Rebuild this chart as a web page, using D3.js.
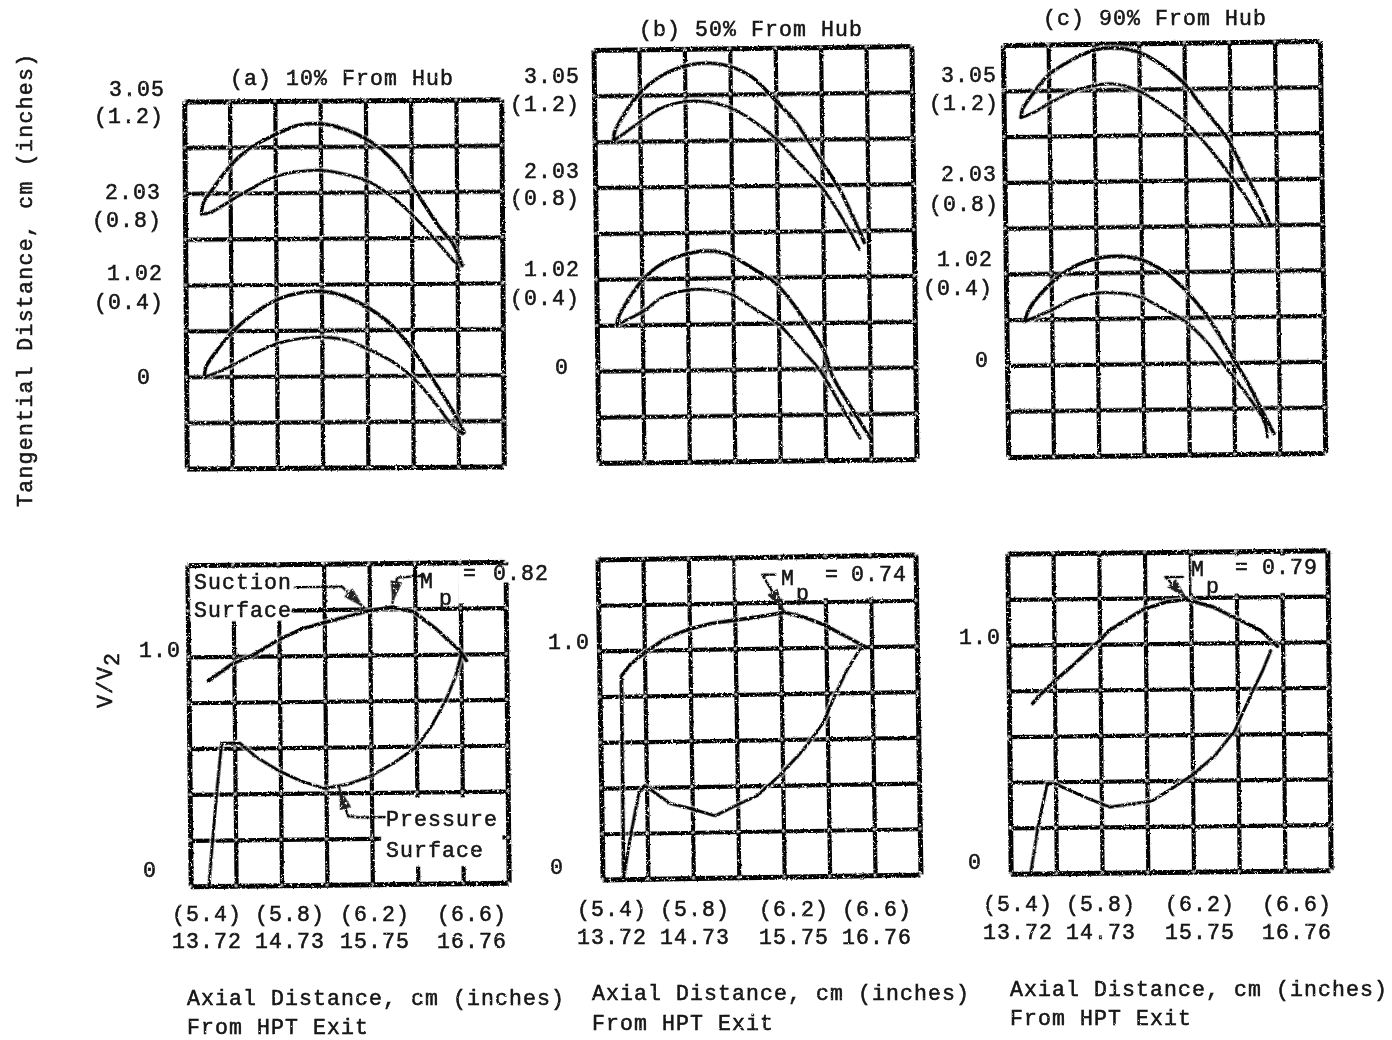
<!DOCTYPE html>
<html>
<head>
<meta charset="utf-8">
<script src="https://cdn.jsdelivr.net/npm/d3@7"></script>
<style>
  body { margin: 0; background: #fff; }
  text { font-family: "Liberation Mono", monospace; font-size: 21.5px; fill: #141414; stroke: #141414; stroke-width: 0.55px; letter-spacing: 1.1px; }
  .grid line { stroke: #000; stroke-width: 4.2px; }
  .grid .frame line { stroke-width: 5px; }
  .trace { fill: none; stroke: #000; stroke-linecap: round; stroke-linejoin: round; }
  .halo { fill: none; stroke: #fff; stroke-width: 6.5px; stroke-opacity: 0.6; }
</style>
</head>
<body>
<svg id="chart" width="1392" height="1040"></svg>
<script>
// grid lines, inches
const axialTicks = [5.4, 5.6, 5.8, 6.0, 6.2, 6.4, 6.6, 6.8];
const tangentialTicksA = [-0.4, -0.2, 0, 0.2, 0.4, 0.6, 0.8, 1.0, 1.2];
const tangentialTicks = [-0.4, -0.2, 0, 0.2, 0.4, 0.6, 0.8, 1.0, 1.2, 1.4];
const velocityTicks = [0, 0.2, 0.4, 0.6, 0.8, 1.0, 1.2, 1.4];

// tick label text
const xLabelsIn = ["(5.4)", "(5.8)", "(6.2)", "(6.6)"];
const xLabelsCm = ["13.72", "14.73", "15.75", "16.76"];
const yLabelsCm = ["3.05", "2.03", "1.02", "0"];
const yLabelsIn = ["(1.2)", "(0.8)", "(0.4)", ""];
const titles = ["(a) 10% From Hub", "(b) 50% From Hub", "(c) 90% From Hub"];
const machPeak = ["= 0.82", "= 0.74", "= 0.79"];

// blade profiles: [axial in, tangential in]
const a10UpperSuction = [[5.473,.709],[5.481,.756],[5.525,.821],[5.598,.915],[5.686,.994],[5.796,1.051],[5.892,1.091],[5.995,1.100],[6.098,1.078],[6.200,1.033],[6.274,.982],[6.340,.916],[6.399,.835],[6.450,.755],[6.523,.645],[6.582,.572],[6.623,.477]];
const a10UpperPressure = [[5.473,.709],[5.510,.715],[5.606,.769],[5.686,.815],[5.796,.869],[5.892,.890],[5.995,.897],[6.098,.881],[6.200,.851],[6.288,.800],[6.399,.704],[6.494,.602],[6.589,.492]];
const a10LowerSuction = [[5.481,.002],[5.488,.043],[5.532,.108],[5.606,.195],[5.701,.274],[5.804,.334],[5.899,.362],[5.995,.369],[6.098,.348],[6.200,.299],[6.303,.225],[6.399,.115],[6.479,-.002],[6.567,-.141],[6.626,-.250]];
const a10LowerPressure = [[5.488,-.001],[5.606,.049],[5.701,.099],[5.804,.142],[5.899,.163],[6.009,.169],[6.112,.154],[6.200,.117],[6.303,.065],[6.399,-.008],[6.479,-.096],[6.575,-.221],[6.619,-.257]];

const b50UpperSuction = [[5.484,1.003],[5.488,1.040],[5.532,1.119],[5.598,1.206],[5.686,1.277],[5.796,1.324],[5.892,1.337],[5.995,1.322],[6.098,1.272],[6.200,1.169],[6.288,1.073],[6.391,.912],[6.472,.787],[6.538,.648],[6.582,.546]];
const b50UpperPressure = [[5.484,1.003],[5.598,1.082],[5.686,1.139],[5.796,1.170],[5.892,1.169],[5.995,1.142],[6.098,1.083],[6.200,1.002],[6.288,.906],[6.398,.788],[6.494,.641],[6.560,.517]];
const b50LowerSuction = [[5.488,.203],[5.495,.232],[5.540,.311],[5.606,.398],[5.686,.462],[5.796,.505],[5.892,.518],[5.980,.502],[6.083,.443],[6.193,.369],[6.303,.229],[6.399,.075],[6.435,-.035],[6.523,-.183],[6.597,-.306]];
const b50LowerPressure = [[5.488,.203],[5.606,.259],[5.686,.317],[5.796,.347],[5.892,.350],[5.995,.327],[6.098,.261],[6.200,.194],[6.288,.098],[6.377,-.005],[6.457,-.141],[6.553,-.306]];

const c90UpperSuction = [[5.476,1.083],[5.484,1.120],[5.535,1.192],[5.597,1.264],[5.697,1.328],[5.795,1.371],[5.888,1.381],[5.993,1.364],[6.093,1.309],[6.193,1.227],[6.284,1.110],[6.387,.978],[6.460,.831],[6.534,.685],[6.570,.597]];
const c90UpperPressure = [[5.476,1.083],[5.535,1.105],[5.597,1.140],[5.697,1.190],[5.795,1.218],[5.888,1.224],[5.993,1.194],[6.093,1.134],[6.193,1.060],[6.284,.964],[6.387,.832],[6.460,.729],[6.534,.605]];
const c90LowerSuction = [[5.479,.191],[5.506,.253],[5.597,.354],[5.697,.426],[5.795,.461],[5.888,.471],[5.993,.456],[6.093,.406],[6.193,.318],[6.284,.207],[6.387,.039],[6.460,-.086],[6.534,-.232],[6.575,-.313]];
const c90LowerPressure = [[5.479,.191],[5.597,.238],[5.697,.287],[5.795,.311],[5.888,.311],[5.993,.291],[6.093,.239],[6.193,.179],[6.284,.091],[6.387,-.049],[6.460,-.144],[6.534,-.262],[6.545,-.327]];

// surface velocity: [axial in, V/V2]
const a10VelSuction = [[5.487,.894],[5.594,.968],[5.683,1.004],[5.793,1.068],[5.904,1.118],[5.992,1.142],[6.095,1.167],[6.184,1.190],[6.301,1.208],[6.397,1.185],[6.493,1.110],[6.596,1.014],[6.625,.970]];
const a10VelPressure = [[5.480,0],[5.518,.400],[5.543,.623],[5.624,.621],[5.697,.558],[5.793,.499],[5.889,.454],[5.992,.420],[6.095,.437],[6.198,.472],[6.301,.529],[6.397,.594],[6.463,.680],[6.530,.796],[6.574,.898],[6.603,1.000]];
const b50VelSuction = [[5.493,.006],[5.497,.889],[5.537,.939],[5.591,.982],[5.691,1.049],[5.794,1.088],[5.896,1.112],[5.999,1.125],[6.102,1.138],[6.219,1.156],[6.307,1.133],[6.393,1.099],[6.484,1.049],[6.579,.996]];
const b50VelPressure = [[5.493,.006],[5.529,.202],[5.566,.377],[5.591,.408],[5.705,.327],[5.801,.302],[5.899,.271],[5.999,.318],[6.087,.356],[6.190,.446],[6.293,.553],[6.381,.669],[6.440,.799],[6.491,.900],[6.550,.991],[6.579,.996]];
const c90VelSuction = [[5.503,.743],[5.535,.779],[5.597,.837],[5.682,.909],[5.785,1.003],[5.843,1.060],[5.902,1.096],[5.990,1.149],[6.093,1.181],[6.181,1.191],[6.299,1.157],[6.401,1.105],[6.504,1.053],[6.578,.982]];
const c90VelPressure = [[5.488,.006],[5.523,.210],[5.564,.392],[5.597,.392],[5.726,.332],[5.836,.287],[5.932,.300],[6.020,.311],[6.108,.364],[6.196,.421],[6.299,.507],[6.387,.616],[6.468,.790],[6.512,.877],[6.548,.964]];

// frame placement on the scanned page
const topPanels = [
  {cx: 344, cy: 284, w: 317, h: 367, rot: -0.4, ticks: tangentialTicksA, lines: [a10UpperSuction, a10UpperPressure, a10LowerSuction, a10LowerPressure]},
  {cx: 755, cy: 254.5, w: 318, h: 413, rot: -0.7, ticks: tangentialTicks, lines: [b50UpperSuction, b50UpperPressure, b50LowerSuction, b50LowerPressure]},
  {cx: 1164, cy: 249, w: 317, h: 412, rot: -0.75, ticks: tangentialTicks, lines: [c90UpperSuction, c90UpperPressure, c90LowerSuction, c90LowerPressure]}
];
const bottomPanels = [
  {cx: 348, cy: 724, w: 318, h: 321, rot: -0.6, ticks: velocityTicks, lines: [a10VelSuction, a10VelPressure],
   clear: [[5.41,5.86,1.153,1.385],[6.59,6.79,1.22,1.385],[6.59,6.84,1.31,1.385],[6.24,6.775,.075,.375]],
   leaders: [[[5.874,1.299],[6.080,1.299],[6.176,1.207]], [[5.859,1.197],[6.169,1.201]], [[6.441,1.343],[6.323,1.336],[6.301,1.226]], [[6.257,.292],[6.139,.292],[6.095,.299],[6.058,.423]]]},
  {cx: 759, cy: 717, w: 318, h: 320, rot: -0.9, ticks: velocityTicks, lines: [b50VelSuction, b50VelPressure],
   clear: [[6.006,6.786,1.215,1.385]],
   leaders: [[[6.183,1.322],[6.124,1.323],[6.216,1.163]]]},
  {cx: 1169, cy: 712, w: 320, h: 320, rot: -0.6, ticks: velocityTicks, lines: [c90VelSuction, c90VelPressure],
   clear: [[6.203,6.78,1.215,1.38]],
   leaders: [[[6.167,1.290],[6.090,1.291],[6.184,1.195]]]}
];

const svg = d3.select("#chart");
const defs = svg.append("defs");

// rough photocopy look: wobble plus little white holes
function scanFilter(id, wobble, cut) {
  const f = defs.append("filter").attr("id", id).attr("filterUnits", "userSpaceOnUse")
    .attr("x", 0).attr("y", 0).attr("width", 1392).attr("height", 1040);
  f.append("feTurbulence").attr("type", "fractalNoise").attr("baseFrequency", 0.42).attr("numOctaves", 2).attr("seed", 7).attr("result", "n");
  f.append("feDisplacementMap").attr("in", "SourceGraphic").attr("in2", "n").attr("scale", wobble)
    .attr("xChannelSelector", "R").attr("yChannelSelector", "G").attr("result", "d");
  f.append("feColorMatrix").attr("in", "n").attr("type", "matrix")
    .attr("values", `0 0 0 0 0  0 0 0 0 0  0 0 0 0 0  9 0 0 0 ${cut}`).attr("result", "holes");
  f.append("feComposite").attr("in", "d").attr("in2", "holes").attr("operator", "out");
}
scanFilter("scan", 2.4, -5.5);
scanFilter("scanText", 1.4, -6.4);

svg.append("rect").attr("width", 1392).attr("height", 1040).attr("fill", "#fff");
const page = svg.append("g").attr("filter", "url(#scan)");
const words = svg.append("g").attr("filter", "url(#scanText)");

function drawPanel(p, yDomain, curve) {
  const x = d3.scaleLinear().domain([5.4, 6.8]).range([0, p.w]);
  const y = d3.scaleLinear().domain(yDomain).range([p.h, 0]);
  const g = page.append("g")
    .attr("transform", `translate(${p.cx - p.w / 2},${p.cy - p.h / 2}) rotate(${p.rot},${p.w / 2},${p.h / 2})`);

  const vert = g.append("g").attr("class", "grid").attr("transform", `translate(0,${p.h})`)
    .call(d3.axisBottom(x).tickValues(axialTicks).tickSize(-p.h).tickFormat(""));
  const horiz = g.append("g").attr("class", "grid")
    .call(d3.axisLeft(y).tickValues(p.ticks).tickSize(-p.w).tickFormat(""));
  [vert, horiz].forEach(a => {
    a.select(".domain").remove();
    a.selectAll(".tick").classed("frame", (d, i, n) => i === 0 || i === n.length - 1);
  });

  // crossings come out pale on the copy
  g.append("g").selectAll("circle").data(d3.cross(axialTicks, p.ticks)).join("circle")
    .attr("cx", d => x(d[0])).attr("cy", d => y(d[1])).attr("r", 1.7).attr("fill", "#fff").attr("fill-opacity", 0.75);

  // spots of the grid that were painted out for labels
  g.selectAll(".clear").data(p.clear || []).join("rect")
    .attr("x", d => x(d[0])).attr("width", d => x(d[1]) - x(d[0]))
    .attr("y", d => y(d[3])).attr("height", d => y(d[2]) - y(d[3]))
    .attr("fill", "#fff");

  const line = d3.line().x(d => x(d[0])).y(d => y(d[1])).curve(curve);
  g.selectAll(".halo").data(p.lines).join("path").attr("class", "halo").attr("d", line);
  g.selectAll(".trace").data(p.lines).join("path").attr("class", "trace")
    .attr("stroke-width", (d, i) => i % 2 === 0 ? 3.6 : 3)
    .attr("d", line);

  // leaders end in a short heavy arrow
  const flat = d3.line().x(d => x(d[0])).y(d => y(d[1]));
  (p.leaders || []).forEach(pts => {
    g.append("path").attr("class", "trace").attr("stroke-width", 2.4).attr("d", flat(pts));
    if (pts.length < 3) return;
    const a = pts[pts.length - 2], b = pts[pts.length - 1];
    const dx = x(b[0]) - x(a[0]), dy = y(b[1]) - y(a[1]), len = Math.hypot(dx, dy);
    const ux = dx / len, uy = dy / len, tx = x(b[0]), ty = y(b[1]);
    g.append("path").attr("fill", "#222")
      .attr("d", `M${tx},${ty}L${tx - 22 * ux - 6 * uy},${ty - 22 * uy + 6 * ux}L${tx - 22 * ux + 6 * uy},${ty - 22 * uy - 6 * ux}Z`);
  });
}

topPanels.forEach(p => drawPanel(p, [-0.4, p.ticks[p.ticks.length - 1]], d3.curveCatmullRom));
bottomPanels.forEach(p => drawPanel(p, [0, 1.4], d3.curveLinear));

function label(str, x, y, anchor = "middle") {
  return words.append("text").attr("x", x).attr("y", y).attr("dy", "0.35em").attr("text-anchor", anchor).text(str);
}

// titles
[[342, 77], [751, 28], [1155, 17]].forEach((pos, i) => label(titles[i], pos[0], pos[1]));

// left side labels of the blade plots
[[[137, 88], [129, 115], [133, 191], [127, 219], [135, 272], [129, 301], [144, 376]],
 [[552, 75], [545, 103], [552, 170], [545, 197], [552, 268], [545, 297], [562, 366]],
 [[969, 74], [964, 102], [969, 173], [964, 203], [965, 258], [958, 287], [982, 359]]].forEach(set => {
  set.forEach((pos, i) => {
    const row = Math.floor(i / 2);
    label(i % 2 === 0 ? yLabelsCm[row] : yLabelsIn[row], pos[0], pos[1]);
  });
});

// x tick labels of the velocity plots
[[[207, 290, 375, 472], 913, 940], [[612, 695, 794, 877], 908, 936], [[1018, 1101, 1200, 1297], 903, 931]].forEach(s => {
  s[0].forEach((px, i) => {
    label(xLabelsIn[i], px, s[1]);
    label(xLabelsCm[i], px, s[2]);
  });
});

// V/V2 ticks
[[160, 649, 150, 869], [569, 641, 557, 866], [980, 636, 975, 861]].forEach(s => {
  label("1.0", s[0], s[1]);
  label("0", s[2], s[3]);
});

// captions under the velocity plots
[[187, 997, 1026], [592, 992, 1022], [1010, 988, 1017]].forEach(s => {
  label("Axial Distance, cm (inches)", s[0], s[1], "start");
  label("From HPT Exit", s[0], s[2], "start");
});

// Mach peak callouts
[[427, 580, 446, 597, 470, 521, 572], [788, 577, 803, 592, 832, 879, 573], [1198, 568, 1213, 585, 1242, 1290, 566]].forEach((s, i) => {
  label("M", s[0], s[1]);
  label("p", s[2], s[3]);
  label("=", s[4], s[6]);
  label(machPeak[i].slice(2), s[5], s[6]);
});

// surface call outs, first panel only
label("Suction", 243, 581);
label("Surface", 243, 609);
label("Pressure", 442, 818);
label("Surface", 435, 849);

// rotated axis titles
words.append("text").attr("transform", "translate(32,507) rotate(-90)").text("Tangential Distance, cm (inches)")
  .style("letter-spacing", "1.3px");
const vv = words.append("text").attr("transform", "translate(112,708) rotate(-90)").text("V/V");
vv.append("tspan").attr("dy", 7).text("2");
</script>
</body>
</html>
